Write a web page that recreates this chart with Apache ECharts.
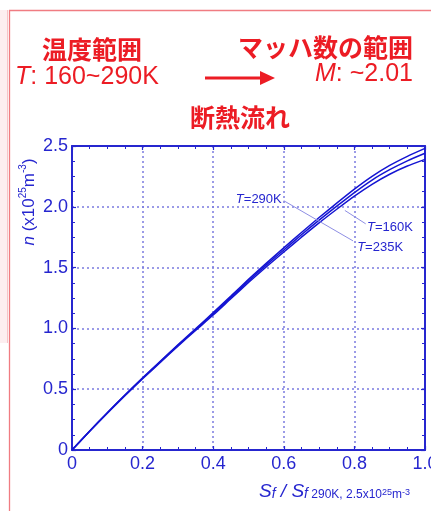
<!DOCTYPE html>
<html><head><meta charset="utf-8">
<script src="https://cdn.jsdelivr.net/npm/echarts@6/dist/echarts.min.js"></script>
<style>html,body{margin:0;padding:0;background:#fff}#c{width:431px;height:511px}</style>
</head><body><div id="c"></div>
<script>
// ---- data ----
const xValues = [0,0.05,0.1,0.15,0.2,0.25,0.3,0.35,0.4,0.45,0.5,0.55,0.6,0.65,0.7,0.75,0.8,0.85,0.9,0.95,1.0];
const nT290 = [0,0.156,0.307,0.453,0.594,0.73,0.866,0.997,1.13,1.266,1.403,1.535,1.662,1.789,1.912,2.03,2.145,2.25,2.34,2.415,2.48];
const nT160 = [0,0.155,0.305,0.45,0.59,0.725,0.86,0.99,1.12,1.255,1.39,1.52,1.645,1.77,1.89,2.005,2.117,2.22,2.305,2.378,2.44];
const nT235 = [0,0.154,0.303,0.447,0.586,0.72,0.854,0.983,1.11,1.244,1.377,1.505,1.628,1.75,1.868,1.98,2.088,2.185,2.268,2.335,2.39];
const xTicks = [0,0.2,0.4,0.6,0.8,1.0];
const yTicks = [0,0.5,1.0,1.5,2.0,2.5];
const seriesNames = ['T=290K','T=160K','T=235K'];

const BLUE = '#2626cf';
const LINE = '#1414d2';
const RED = '#ec1c24';
const LATF = '"Liberation Sans", Arial, sans-serif';
const JP = '"Noto Sans CJK JP", sans-serif';

const chart = echarts.init(document.getElementById('c'), null, {renderer:'canvas'});
const fmt = v => v === 0 ? '0' : v.toFixed(1);
const mctx = document.createElement('canvas').getContext('2d');
function tw(font, s){ mctx.font = font; return mctx.measureText(s).width; }

function mkX(pos, labels){
  return {type:'value', position:pos, min:xTicks[0], max:xTicks[xTicks.length-1], interval:0.2,
    axisLine:{show:true, onZero:false, lineStyle:{color:BLUE, width:2}},
    axisTick:{show:true, inside:true, length:4, lineStyle:{color:BLUE, width:1.2}},
    minorTick:{show:true, splitNumber:4, length:3, lineStyle:{color:BLUE, width:1}},
    axisLabel:{show:labels, formatter:fmt, color:BLUE, fontSize:18, fontFamily:LATF, margin:5, hideOverlap:false},
    splitLine:{show:labels, lineStyle:{color:'#7b7be0', type:[2,3], width:1.5}}};
}
function mkY(pos, labels){
  return {type:'value', position:pos, min:yTicks[0], max:yTicks[yTicks.length-1], interval:0.5,
    axisLine:{show:true, onZero:false, lineStyle:{color:BLUE, width:2}},
    axisTick:{show:true, inside:true, length:4, lineStyle:{color:BLUE, width:1.2}},
    minorTick:{show:true, splitNumber:4, length:3, lineStyle:{color:BLUE, width:1}},
    axisLabel:{show:labels, formatter:fmt, color:BLUE, fontSize:18, fontFamily:LATF, margin:4},
    splitLine:{show:labels, lineStyle:{color:'#7b7be0', type:[2,3], width:1.5}}};
}
const datasets = [nT290, nT160, nT235];
const labelRich = {i:{fontStyle:'italic', color:BLUE, fontSize:13, fontFamily:LATF}, n:{color:BLUE, fontSize:13, fontFamily:LATF}};
const leaderStyle = {color:'#8e8ee4', width:1, type:'solid'};

const series = datasets.map((d,k) => ({
  name: seriesNames[k], type:'line', xAxisIndex:0, yAxisIndex:0, showSymbol:false, symbol:'none',
  data: xValues.map((x,i)=>[x,d[i]]), smooth:0.2,
  lineStyle:{color:LINE, width:1.5}, z:3, animation:false
}));
series.push({type:'line', xAxisIndex:0, yAxisIndex:0, data:[], z:2, animation:false,
  markLine:{silent:true, symbol:['none','none'], animation:false, lineStyle:leaderStyle, label:{show:false},
    data:[[{coord:[0.600,2.05]},{coord:[0.796,1.72]}],[{coord:[0.773,1.97]},{coord:[0.832,1.86]}]]},
  markPoint:{silent:true, symbol:'circle', symbolSize:0, animation:false,
    data:[
      {coord:[0.597,2.06], label:{show:true, position:'left', distance:1, formatter:'{i|T}{n|=290K}', rich:labelRich}},
      {coord:[0.833,1.83], label:{show:true, position:'right', distance:1, formatter:'{i|T}{n|=160K}', rich:labelRich}},
      {coord:[0.805,1.67], label:{show:true, position:'right', distance:1, formatter:'{i|T}{n|=235K}', rich:labelRich}}
    ]}
});

function rt(o){ o.fill = o.color; return o; }
const wT = tw('italic 25px '+LATF, 'T');
const wMrest = tw('25px '+LATF, ': ~2.01');
function redText(x, y, s, italic, align){
  return {type:'text', x:x, y:y, style:{text:s, fill:RED, stroke:null, fontSize:25, fontFamily:LATF,
    fontStyle: italic ? 'italic' : 'normal', fontWeight:'normal', align:align, verticalAlign:'middle'}};
}
chart.setOption({
  animation:false,
  backgroundColor:'#ffffff',
  grid:{left:72, right:6, top:146, bottom:61, containLabel:false, outerBoundsMode:'none'},
  xAxis:[mkX('bottom', true), mkX('top', false)],
  yAxis:[mkY('left', true), mkY('right', false)],
  series: series,
  graphic:[
    {type:'rect', shape:{x:0, y:10, width:7, height:333}, style:{fill:'#fdeef0', stroke:null}, silent:true},
    {type:'line', shape:{x1:7.5, y1:10, x2:7.5, y2:343}, style:{stroke:'#f6c4c8', lineWidth:1}, silent:true},
    {type:'line', shape:{x1:9.5, y1:10, x2:9.5, y2:511}, style:{stroke:'#f07c82', lineWidth:1.3}, silent:true},
    {type:'line', shape:{x1:9, y1:10.5, x2:431, y2:10.5}, style:{stroke:'#f07c82', lineWidth:1.3}, silent:true},
    {type:'text', x:92, y:49, style:{text:'温度範囲', font:'bold 25px '+JP, fill:RED, align:'center', verticalAlign:'middle'}},
    redText(15, 77, 'T', true, 'left'),
    redText(15+wT, 77, ': 160~290K', false, 'left'),
    {type:'text', x:413, y:47, style:{text:'マッハ数の範囲', font:'bold 25px '+JP, fill:RED, align:'right', verticalAlign:'middle'}},
    redText(413, 74, ': ~2.01', false, 'right'),
    redText(413-wMrest, 74, 'M', true, 'right'),
    {type:'line', shape:{x1:205, y1:78, x2:264, y2:78}, style:{stroke:RED, lineWidth:3}, silent:true},
    {type:'polygon', shape:{points:[[275,78],[260,71],[260,85]]}, style:{fill:RED}, silent:true},
    {type:'text', x:240, y:117, style:{text:'断熱流れ', font:'bold 25px '+JP, fill:RED, align:'center', verticalAlign:'middle'}},
    {type:'text', x:28, y:202, rotation:Math.PI/2, style:{
      text:'{i|n}{n| (x10}{s|25}{n|m}{s|-3}{n|)}', align:'center', verticalAlign:'middle', fill:BLUE,
      rich:{i:rt({fontStyle:'italic', fontSize:17, fontFamily:LATF, color:BLUE, lineHeight:20, verticalAlign:'bottom'}),
            n:rt({fontSize:17, fontFamily:LATF, color:BLUE, lineHeight:20, verticalAlign:'bottom'}),
            s:rt({fontSize:10, fontFamily:LATF, color:BLUE, verticalAlign:'top', lineHeight:12})}}},
    {type:'text', x:259, y:490, style:{
      text:'{S|S}{f|f}{S| / S}{f|f}{t| 290K, 2.5x10}{u|25}{t|m}{u|-3}', align:'left', verticalAlign:'middle', fill:BLUE,
      rich:{S:rt({fontStyle:'italic', fontSize:19, fontFamily:LATF, color:BLUE, lineHeight:22, verticalAlign:'bottom'}),
            f:rt({fontStyle:'italic', fontSize:14, fontFamily:LATF, color:BLUE, lineHeight:22, verticalAlign:'bottom', padding:[4,0,0,0]}),
            t:rt({fontSize:12, fontFamily:LATF, color:BLUE, lineHeight:22, verticalAlign:'bottom', padding:[4,0,0,0]}),
            u:rt({fontSize:9, fontFamily:LATF, color:BLUE, lineHeight:12, verticalAlign:'bottom', padding:[0,0,4,0]})}}}
  ]
});
</script></body></html>
